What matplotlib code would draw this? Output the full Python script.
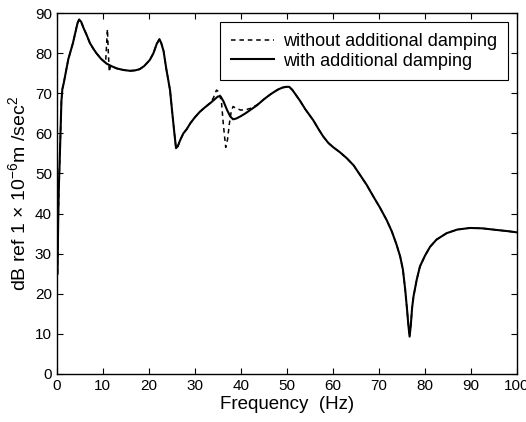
import numpy as np
import matplotlib.pyplot as plt

plt.rcParams['font.family'] = ['Liberation Sans', 'DejaVu Sans']
plt.rcParams['mathtext.fontset'] = 'custom'
plt.rcParams['mathtext.rm'] = 'Liberation Sans'
plt.rcParams['mathtext.it'] = 'Liberation Sans'

# frequency response with additional damping
f_damp = [0.15, 0.3, 0.45, 0.6, 0.8, 1.0, 1.2, 1.5, 2.0, 2.5, 3.0, 3.5, 4.0, 4.5, 4.85,
          5.3, 5.8, 6.5, 7.2, 8.0, 8.6, 9.6, 10.8, 12.0, 13.0, 14.5, 15.9, 17.0, 18.0,
          19.0, 20.2, 21.0, 21.7, 22.3, 22.7, 23.2, 23.8, 24.6, 25.1, 25.5, 25.9,
          26.3, 26.8, 27.5, 28.2, 29.0, 30.0, 31.1, 32.2, 33.3, 34.3, 35.0, 35.6, 36.2,
          37.0, 37.7, 38.3, 39.0, 40.0, 41.0, 42.0, 43.5, 45.0, 46.5, 48.0, 49.0, 49.8,
          50.5, 51.2, 52.0, 52.8, 54.0, 55.7, 57.0, 57.9, 59.0, 60.1, 61.5, 63.0, 64.5,
          65.9, 67.3, 68.8, 70.2, 71.7, 72.8, 73.8, 74.6, 75.2, 75.7, 76.1, 76.4, 76.65,
          76.9, 77.2, 77.5, 78.2, 78.9, 80.0, 81.1, 82.5, 84.7, 87.0, 89.8, 92.5, 95.6,
          98.0, 100.0]
db_damp = [25.0, 38.0, 47.0, 52.0, 60.0, 68.0, 71.0, 72.5, 75.5, 78.5, 80.5, 82.5, 85.0,
           87.5, 88.4, 87.8, 86.3, 84.5, 82.5, 81.0, 80.0, 78.6, 77.4, 76.7, 76.2, 75.8,
           75.6, 75.7, 76.0, 76.8, 78.3, 80.0, 82.3, 83.5, 82.5, 80.5, 76.0, 70.8, 65.0,
           60.5, 56.3, 56.8, 58.3, 60.0, 61.0, 62.5, 64.0, 65.4, 66.5, 67.5, 68.5, 69.2,
           69.2, 68.0, 65.8, 64.2, 63.5, 63.7, 64.3, 65.0, 65.8, 67.0, 68.5, 69.8, 70.9,
           71.4, 71.6, 71.6, 70.8, 69.5, 68.2, 66.0, 63.3, 60.8, 59.2, 57.6, 56.5, 55.3,
           53.8, 52.0, 49.6, 47.2, 44.2, 41.5, 38.3, 35.5, 32.3, 29.3, 26.0, 21.0, 16.0,
           12.0, 9.3, 12.0, 16.5, 19.3, 23.5, 26.8, 29.5, 31.7, 33.5, 35.1, 36.0, 36.4,
           36.3, 35.9, 35.6, 35.3]

# frequency response without additional damping (differs near 11 Hz and 36 Hz)
f_nodamp = [0.15, 0.3, 0.45, 0.6, 0.8, 1.0, 1.2, 1.5, 2.0, 2.5, 3.0, 3.5, 4.0, 4.5, 4.85,
            5.3, 5.8, 6.5, 7.2, 8.0, 8.6, 9.6, 10.6, 11.0, 11.2, 11.4, 11.7, 12.0, 13.0,
            14.5, 15.9, 17.0, 18.0, 19.0, 20.2, 21.0, 21.7, 22.3, 22.7, 23.2, 23.8, 24.6,
            25.1, 25.5, 25.9, 26.3, 26.8, 27.5, 28.2, 29.0, 30.0, 31.1, 32.2, 33.3, 34.0,
            34.7, 35.3, 35.8, 36.2, 36.7, 37.1, 37.5, 37.9, 38.3, 39.0, 40.0, 41.0, 42.0,
            43.5, 45.0, 46.5, 48.0, 49.0, 49.8, 50.5, 51.2, 52.0, 52.8, 54.0, 55.7, 57.0,
            57.9, 59.0, 60.1, 61.5, 63.0, 64.5, 65.9, 67.3, 68.8, 70.2, 71.7, 72.8, 73.8,
            74.6, 75.2, 75.7, 76.1, 76.4, 76.65, 76.9, 77.2, 77.5, 78.2, 78.9, 80.0, 81.1,
            82.5, 84.7, 87.0, 89.8, 92.5, 95.6, 98.0, 100.0]
db_nodamp = [25.0, 38.0, 47.0, 52.0, 60.0, 68.0, 71.0, 72.5, 75.5, 78.5, 80.5, 82.5, 85.0,
             87.5, 88.4, 87.8, 86.3, 84.5, 82.5, 81.0, 80.0, 78.6, 77.6, 86.0, 80.0, 75.3,
             77.0, 76.7, 76.2, 75.8, 75.6, 75.7, 76.0, 76.8, 78.3, 80.0, 82.3, 83.5, 82.5,
             80.5, 76.0, 70.8, 65.0, 60.5, 56.3, 56.8, 58.3, 60.0, 61.0, 62.5, 64.0, 65.4,
             66.5, 67.6, 68.8, 70.8, 70.2, 67.5, 62.0, 56.5, 58.5, 62.5, 65.5, 66.7, 66.2,
             65.8, 65.9, 66.2, 67.1, 68.5, 69.8, 70.9, 71.4, 71.6, 71.6, 70.8, 69.5, 68.2,
             66.0, 63.3, 60.8, 59.2, 57.6, 56.5, 55.3, 53.8, 52.0, 49.6, 47.2, 44.2, 41.5,
             38.3, 35.5, 32.3, 29.3, 26.0, 21.0, 16.0, 12.0, 9.3, 12.0, 16.5, 19.3, 23.5,
             26.8, 29.5, 31.7, 33.5, 35.1, 36.0, 36.4, 36.3, 35.9, 35.6, 35.3]

fig = plt.figure(figsize=(5.26, 4.22), dpi=100)
ax = fig.add_axes([0.108, 0.114, 0.875, 0.855])

ax.plot(f_nodamp, db_nodamp, 'k--', lw=1.1, dashes=(3, 2.5), label='without additional damping')
ax.plot(f_damp, db_damp, 'k-', lw=1.5, label='with additional damping')

ax.set_xlim(0, 100)
ax.set_ylim(0, 90)
ax.set_xticks(np.arange(0, 101, 10))
ax.set_yticks(np.arange(0, 91, 10))
ax.tick_params(direction='in', top=True, right=True, labelsize=11, length=4, width=0.8)
for s in ax.spines.values():
    s.set_linewidth(1.0)

ax.set_xlabel('Frequency  (Hz)', fontsize=13.5, labelpad=2)
ax.set_ylabel(r'dB ref 1 $\times$ 10$^{-6}$m /sec$^2$', fontsize=14, labelpad=4)

leg = ax.legend(loc='upper right', fontsize=13, handlelength=2.4, fancybox=False,
                edgecolor='black', framealpha=1, borderaxespad=0.5, borderpad=0.6,
                labelspacing=0.15, handletextpad=0.5)
leg.get_frame().set_linewidth(0.8)

fig.savefig('out.png', dpi=100)
